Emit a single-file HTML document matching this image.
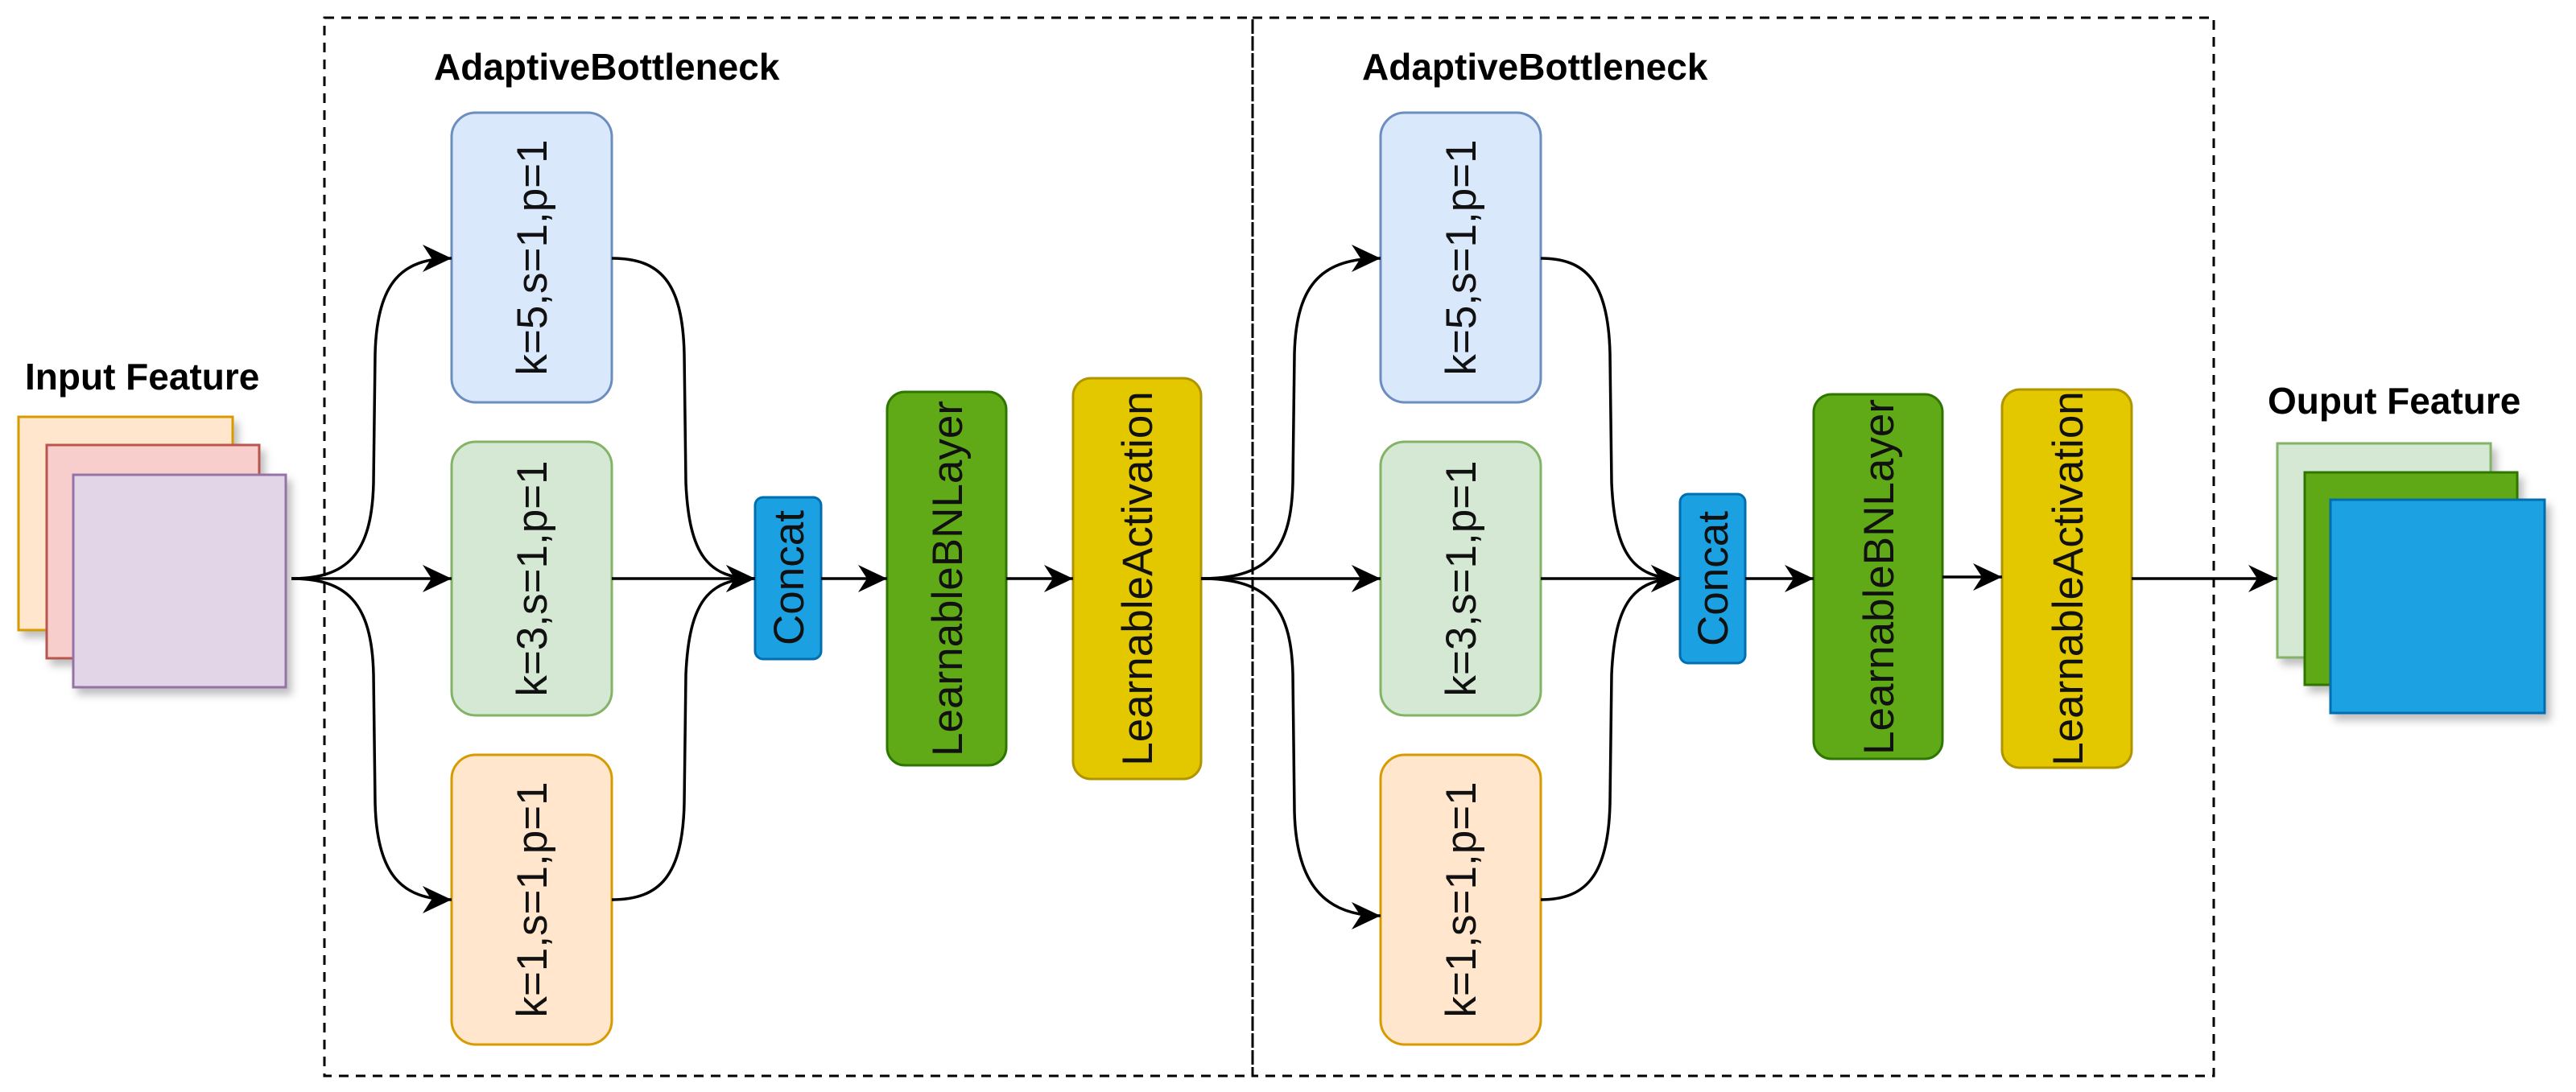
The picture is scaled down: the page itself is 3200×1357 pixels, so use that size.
<!DOCTYPE html>
<html><head><meta charset="utf-8"><style>
html,body{margin:0;padding:0;background:#fff}
svg{display:block}
.lbl{font-family:"Liberation Sans",Arial,sans-serif;font-size:53px;fill:#111}
.ttl{font-family:"Liberation Sans",Arial,sans-serif;font-size:46px;font-weight:bold;fill:#000}
</style></head><body>
<svg width="3200" height="1357" viewBox="0 0 3200 1357" xmlns="http://www.w3.org/2000/svg">
<defs>
<marker id="b" viewBox="-38 -20 40 40" refX="0" refY="0" markerWidth="40" markerHeight="40" markerUnits="userSpaceOnUse" orient="auto">
<path d="M0,0 L-36,-17 L-25,0 L-36,17 Z" fill="#000"/>
</marker>
<filter id="sh" x="-10%" y="-10%" width="130%" height="130%"><feDropShadow dx="6" dy="8" stdDeviation="5" flood-color="#000" flood-opacity="0.25"/></filter>
</defs>

<rect x="403" y="22" width="1153" height="1315" fill="none" stroke="#000" stroke-width="3" stroke-dasharray="12,9"/>
<rect x="1556" y="22" width="1194" height="1315" fill="none" stroke="#000" stroke-width="3" stroke-dasharray="12,9"/>
<text class="ttl" x="539" y="99">AdaptiveBottleneck</text>
<text class="ttl" x="1692" y="99">AdaptiveBottleneck</text>

<g filter="url(#sh)">
<rect x="23" y="518" width="266" height="265" fill="#ffe6cc" stroke="#d79b00" stroke-width="3"/>
<rect x="58" y="553" width="264" height="265" fill="#f8cecc" stroke="#b85450" stroke-width="3"/>
<rect x="91" y="590" width="264" height="264" fill="#e1d5e7" stroke="#9673a6" stroke-width="3"/>
</g>
<text class="ttl" x="31" y="484">Input Feature</text>

<g filter="url(#sh)">
<rect x="2829" y="551" width="265" height="266" fill="#d5e8d4" stroke="#82b366" stroke-width="3"/>
<rect x="2863" y="587" width="264" height="264" fill="#60a917" stroke="#2d7600" stroke-width="3"/>
<rect x="2895" y="621" width="266" height="265" fill="#1ba1e2" stroke="#006eaf" stroke-width="3"/>
</g>
<text class="ttl" x="2817" y="514">Ouput Feature</text>

<rect x="561" y="140" width="199" height="360" rx="30" fill="#dae8fc" stroke="#6c8ebf" stroke-width="3"/>
<rect x="561" y="549" width="199" height="340" rx="30" fill="#d5e8d4" stroke="#82b366" stroke-width="3"/>
<rect x="561" y="938" width="199" height="360" rx="30" fill="#ffe6cc" stroke="#d79b00" stroke-width="3"/>
<rect x="938" y="618" width="82" height="201" rx="10" fill="#1ba1e2" stroke="#006eaf" stroke-width="3"/>
<rect x="1102" y="487" width="148" height="464" rx="22" fill="#60a917" stroke="#2d7600" stroke-width="3"/>
<rect x="1333" y="470" width="159" height="498" rx="22" fill="#e3c800" stroke="#b09500" stroke-width="3"/>

<rect x="1715" y="140" width="199" height="360" rx="30" fill="#dae8fc" stroke="#6c8ebf" stroke-width="3"/>
<rect x="1715" y="549" width="199" height="340" rx="30" fill="#d5e8d4" stroke="#82b366" stroke-width="3"/>
<rect x="1715" y="938" width="199" height="360" rx="30" fill="#ffe6cc" stroke="#d79b00" stroke-width="3"/>
<rect x="2087" y="614" width="81" height="210" rx="10" fill="#1ba1e2" stroke="#006eaf" stroke-width="3"/>
<rect x="2253" y="490" width="160" height="453" rx="22" fill="#60a917" stroke="#2d7600" stroke-width="3"/>
<rect x="2487" y="484" width="161" height="470" rx="22" fill="#e3c800" stroke="#b09500" stroke-width="3"/>

<g class="lbl" text-anchor="middle">
<text transform="translate(679,320) rotate(-90)">k=5,s=1,p=1</text>
<text transform="translate(679,719) rotate(-90)">k=3,s=1,p=1</text>
<text transform="translate(679,1118) rotate(-90)">k=1,s=1,p=1</text>
<text transform="translate(998,718) rotate(-90)">Concat</text>
<text transform="translate(1195,719) rotate(-90)">LearnableBNLayer</text>
<text transform="translate(1431,719) rotate(-90)">LearnableActivation</text>
<text transform="translate(1833,320) rotate(-90)">k=5,s=1,p=1</text>
<text transform="translate(1833,719) rotate(-90)">k=3,s=1,p=1</text>
<text transform="translate(1833,1118) rotate(-90)">k=1,s=1,p=1</text>
<text transform="translate(2146,719) rotate(-90)">Concat</text>
<text transform="translate(2352,717) rotate(-90)">LearnableBNLayer</text>
<text transform="translate(2587,719) rotate(-90)">LearnableActivation</text>
</g>

<g fill="none" stroke="#000" stroke-width="3.5">
<path d="M362,719 C430,719 462,690 464,600 L466,440 C468,350 500,321 561,321" marker-end="url(#b)"/>
<path d="M362,719 L561,719" marker-end="url(#b)"/>
<path d="M362,719 C430,719 462,748 464,838 L466,998 C468,1088 500,1118 561,1118" marker-end="url(#b)"/>
<path d="M760,321 C820,321 848,350 850,440 L852,600 C856,690 880,719 938,719" marker-end="url(#b)"/>
<path d="M760,719 L938,719"/>
<path d="M760,1118 C820,1118 848,1088 850,998 L852,838 C856,748 880,719 938,719" marker-end="url(#b)"/>
<path d="M1020,719 L1102,719" marker-end="url(#b)"/>
<path d="M1250,719 L1333,719" marker-end="url(#b)"/>

<path d="M1492,719 C1570,719 1604,690 1606,600 L1608,440 C1610,350 1645,321 1715,321" marker-end="url(#b)"/>
<path d="M1492,719 L1715,719" marker-end="url(#b)"/>
<path d="M1492,719 C1570,719 1604,748 1606,838 L1608,1008 C1610,1098 1645,1138 1715,1138" marker-end="url(#b)"/>
<path d="M1914,321 C1970,321 1998,350 2000,440 L2002,600 C2006,690 2030,719 2087,719" marker-end="url(#b)"/>
<path d="M1914,719 L2087,719"/>
<path d="M1914,1118 C1970,1118 1998,1088 2000,998 L2002,838 C2006,748 2030,719 2087,719" marker-end="url(#b)"/>
<path d="M2168,719 L2253,719" marker-end="url(#b)"/>
<path d="M2413,717 L2487,717" marker-end="url(#b)"/>
<path d="M2648,719 L2829,719" marker-end="url(#b)"/>
</g>
</svg>
</body></html>
